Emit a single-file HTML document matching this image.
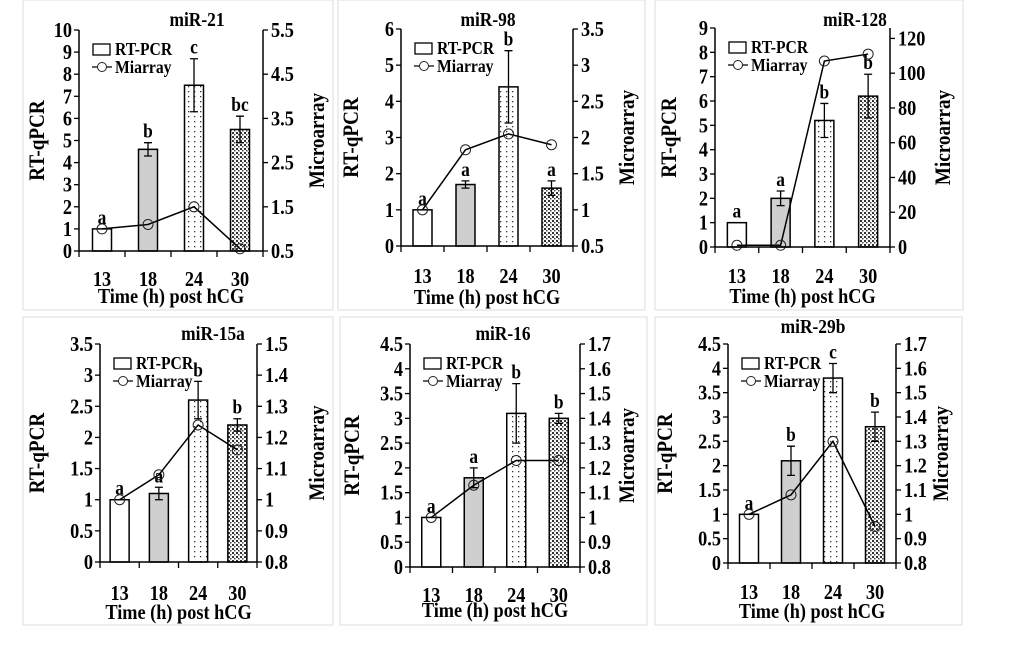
<!DOCTYPE html>
<html><head><meta charset="utf-8"><style>
body{margin:0;background:#fff;}
svg text{font-family:"Liberation Serif",serif;font-weight:bold;fill:#000;}
</style></head><body>
<svg id="fig" width="1020" height="662" viewBox="0 0 1020 662" xmlns="http://www.w3.org/2000/svg">
<defs>
<pattern id="dots" width="6" height="5" patternUnits="userSpaceOnUse"><rect width="6" height="5" fill="#fff"/><rect x="2" y="1" width="1.3" height="1.3" fill="#333"/></pattern>
<pattern id="check" width="4" height="4" patternUnits="userSpaceOnUse"><rect width="4" height="4" fill="#fff"/><rect width="2" height="2" fill="#333"/><rect x="2" y="2" width="1.5" height="1.5" fill="#444"/></pattern>
</defs>
</svg>
<script>
const categories = ['13','18','24','30'];
const fills = ['#fff','#cfcfcf','url(#dots)','url(#check)'];

const mir21Bars = [1, 4.6, 7.5, 5.5];
const mir21Err = [0, 0.3, 1.2, 0.6];
const mir21Letters = ['a','b','c','bc'];
const mir21Line = [1.0, 1.1, 1.5, 0.55];
const mir21LeftTicks = [0,1,2,3,4,5,6,7,8,9,10];
const mir21RightTicks = [0.5,1.5,2.5,3.5,4.5,5.5];

const mir98Bars = [1, 1.7, 4.4, 1.6];
const mir98Err = [0, 0.1, 1.0, 0.2];
const mir98Letters = ['a','a','b','a'];
const mir98Line = [1.0, 1.83, 2.05, 1.9];
const mir98LeftTicks = [0,1,2,3,4,5,6];
const mir98RightTicks = [0.5,1,1.5,2,2.5,3,3.5];

const mir128Bars = [1, 2, 5.2, 6.2];
const mir128Err = [0, 0.3, 0.7, 0.9];
const mir128Letters = ['a','a','b','b'];
const mir128Line = [1, 1, 107, 111];
const mir128LeftTicks = [0,1,2,3,4,5,6,7,8,9];
const mir128RightTicks = [0,20,40,60,80,100,120];

const mir15aBars = [1, 1.1, 2.6, 2.2];
const mir15aErr = [0, 0.1, 0.3, 0.1];
const mir15aLetters = ['a','a','b','b'];
const mir15aLine = [1.0, 1.08, 1.24, 1.16];
const mir15aLeftTicks = [0,0.5,1,1.5,2,2.5,3,3.5];
const mir15aRightTicks = [0.8,0.9,1,1.1,1.2,1.3,1.4,1.5];

const mir16Bars = [1, 1.8, 3.1, 3.0];
const mir16Err = [0, 0.2, 0.6, 0.1];
const mir16Letters = ['a','a','b','b'];
const mir16Line = [1.0, 1.13, 1.23, 1.23];
const mir16LeftTicks = [0,0.5,1,1.5,2,2.5,3,3.5,4,4.5];
const mir16RightTicks = [0.8,0.9,1,1.1,1.2,1.3,1.4,1.5,1.6,1.7];

const mir29bBars = [1, 2.1, 3.8, 2.8];
const mir29bErr = [0, 0.3, 0.3, 0.3];
const mir29bLetters = ['a','b','c','b'];
const mir29bLine = [1.0, 1.08, 1.3, 0.95];
const mir29bLeftTicks = [0,0.5,1,1.5,2,2.5,3,3.5,4,4.5];
const mir29bRightTicks = [0.8,0.9,1,1.1,1.2,1.3,1.4,1.5,1.6,1.7];

const svg = document.getElementById('fig');
const NS = 'http://www.w3.org/2000/svg';
const SX = 0.87;
function mk(tag, attrs, parent){const e=document.createElementNS(NS,tag);for(const k in attrs)e.setAttribute(k,attrs[k]);(parent||svg).appendChild(e);return e;}
function txt(s, x, y, size, anchor, parent, rot){
  const a={x:0,y:0,'font-size':size,'text-anchor':anchor||'start',
    transform:`translate(${x} ${y})${rot?' rotate(-90)':''} scale(${SX} 1)`};
  const e=mk('text',a,parent);e.textContent=s;return e;
}

function panel(p){
  const g = mk('g',{});
  
  
  const box = mk('rect',{x:p.bx,y:p.by,width:p.bw,height:p.bh,fill:'#fff',stroke:'#ddd','stroke-width':1},g);
  
  
  const L=p.L,R=p.R,T=p.T,B=p.B;
  const yl = v => B - (v-p.lmin)/(p.lmax-p.lmin)*(B-T);
  const yr = v => B - (v-p.rmin)/(p.rmax-p.rmin)*(B-T);
  const cw = (R-L)/categories.length;
  const xc = i => L + (i+0.5)*cw;
  const bw = 19;
  p.bars.forEach((v,i)=>{
    const r = mk('rect',{x:xc(i)-bw/2,y:yl(v),width:bw,height:B-yl(v),fill:fills[i],stroke:'#000','stroke-width':1.5},g);
    
    
    if(p.err[i]>0){
      const e1=yl(v+p.err[i]), e2=yl(v-p.err[i]);
      const eb = mk('path',{d:`M${xc(i)},${e1}V${e2}M${xc(i)-4},${e1}H${xc(i)+4}M${xc(i)-4},${e2}H${xc(i)+4}`,stroke:'#000','stroke-width':1.3,fill:'none'},g);
      
      
    }
    const lt = txt(p.letters[i], xc(i), yl(v+p.err[i])-5, 20, 'middle', g);
    
    
  });
  const pts = p.line.map((v,i)=>xc(i)+','+yr(v)).join(' ');
  const pl = mk('polyline',{points:pts,fill:'none',stroke:'#000','stroke-width':1.5},g);
  
  
  p.line.forEach((v,i)=>{
    const c = mk('circle',{cx:xc(i),cy:yr(v),r:5,fill:'none',stroke:'#222','stroke-width':1},g);
    
    
  });
  const ax = mk('path',{d:`M${L},${T}V${B}H${R}V${T}`,stroke:'#000','stroke-width':1.5,fill:'none'},g);
  
  
  p.lt.forEach(v=>{
    mk('line',{x1:L-5,x2:L,y1:yl(v),y2:yl(v),stroke:'#000','stroke-width':1.3},g);
    const t=txt(String(v), L-7, yl(v)+7, 21, 'end', g);
    
    
  });
  p.rt.forEach(v=>{
    mk('line',{x1:R,x2:R+5,y1:yr(v),y2:yr(v),stroke:'#000','stroke-width':1.3},g);
    const t=txt(String(v), R+8, yr(v)+7, 21, 'start', g);
    
    
  });
  for(let i=0;i<=categories.length;i++){
    mk('line',{x1:L+i*cw,x2:L+i*cw,y1:B,y2:B+6,stroke:'#000','stroke-width':1.3},g);
  }
  categories.forEach((c,i)=>{
    const t=txt(c, xc(i), p.xly+2, 21, 'middle', g);
    
    
  });
  const xt=txt('Time (h) post hCG', (L+R)/2, p.xty+1, 21, 'middle', g);
  
  
  const my=(T+B)/2;
  const ylt=txt('RT-qPCR', p.ylx, my, 22, 'middle', g, true);
  
  
  const yrt=txt('Microarray', p.yrx, my, 22, 'middle', g, true);
  
  
  const ti=txt(p.title, p.tx, p.ty, 20, 'middle', g);
  
  
  const lx=L+14, ly=T+14;
  const lg = mk('g',{},g);
  
  
  mk('rect',{x:lx,y:ly,width:17,height:11,fill:'#fff',stroke:'#000','stroke-width':1.3},lg);
  txt('RT-PCR', lx+22, ly+11, 18, 'start', lg);
  mk('line',{x1:lx-1,x2:lx+19,y1:ly+23,y2:ly+23,stroke:'#000','stroke-width':1.3},lg);
  mk('circle',{cx:lx+9,cy:ly+23,r:4.5,fill:'#fff',stroke:'#222','stroke-width':1},lg);
  txt('Miarray', lx+22, ly+29, 18, 'start', lg);
}

panel({key:'mir-21',title:'miR-21',bx:23,by:0,bw:310,bh:310,L:79,R:263,T:30,B:251,lmin:0,lmax:10,rmin:0.5,rmax:5.5,
  bars:mir21Bars,err:mir21Err,letters:mir21Letters,line:mir21Line,lt:mir21LeftTicks,rt:mir21RightTicks,
  xly:284,xty:302,ylx:44,yrx:324,tx:197,ty:26});
panel({key:'mir-98',title:'miR-98',bx:338,by:0,bw:307,bh:310,L:401,R:573,T:29,B:246,lmin:0,lmax:6,rmin:0.5,rmax:3.5,
  bars:mir98Bars,err:mir98Err,letters:mir98Letters,line:mir98Line,lt:mir98LeftTicks,rt:mir98RightTicks,
  xly:281,xty:303,ylx:358,yrx:634,tx:488,ty:26});
panel({key:'mir-128',title:'miR-128',bx:655,by:0,bw:308,bh:310,L:715,R:890,T:28,B:247,lmin:0,lmax:9,rmin:0,rmax:126,
  bars:mir128Bars,err:mir128Err,letters:mir128Letters,line:mir128Line,lt:mir128LeftTicks,rt:mir128RightTicks,
  xly:281,xty:302,ylx:676,yrx:950,tx:855,ty:26});
panel({key:'mir-15a',title:'miR-15a',bx:23,by:317,bw:310,bh:308,L:100,R:257,T:344,B:562,lmin:0,lmax:3.5,rmin:0.8,rmax:1.5,
  bars:mir15aBars,err:mir15aErr,letters:mir15aLetters,line:mir15aLine,lt:mir15aLeftTicks,rt:mir15aRightTicks,
  xly:598,xty:618,ylx:44,yrx:324,tx:213,ty:340});
panel({key:'mir-16',title:'miR-16',bx:340,by:317,bw:307,bh:308,L:410,R:580,T:344,B:567,lmin:0,lmax:4.5,rmin:0.8,rmax:1.7,
  bars:mir16Bars,err:mir16Err,letters:mir16Letters,line:mir16Line,lt:mir16LeftTicks,rt:mir16RightTicks,
  xly:600,xty:616,ylx:359,yrx:634,tx:503,ty:340});
panel({key:'mir-29b',title:'miR-29b',bx:655,by:317,bw:307,bh:308,L:728,R:896,T:344,B:563,lmin:0,lmax:4.5,rmin:0.8,rmax:1.7,
  bars:mir29bBars,err:mir29bErr,letters:mir29bLetters,line:mir29bLine,lt:mir29bLeftTicks,rt:mir29bRightTicks,
  xly:597,xty:617,ylx:672,yrx:948,tx:813,ty:333});
</script>
</body></html>
